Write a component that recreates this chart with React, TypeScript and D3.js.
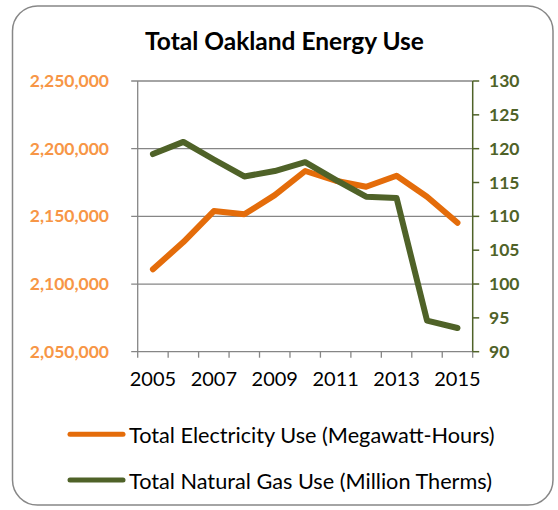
import React from "react";
import { scaleBand, scaleLinear, line, format } from "d3";

const years = [2005, 2006, 2007, 2008, 2009, 2010, 2011, 2012, 2013, 2014, 2015];
const electricity = [
  2110900, 2131000, 2153900, 2151500, 2165700, 2183500, 2176300, 2171900, 2180000, 2164500, 2145300,
];
const naturalGas = [119.2, 121.0, 118.4, 115.9, 116.7, 118.0, 115.4, 112.9, 112.7, 94.6, 93.5];
const leftTicks = [2050000, 2100000, 2150000, 2200000, 2250000];
const rightTicks = [90, 95, 100, 105, 110, 115, 120, 125, 130];
const xLabels = [2005, 2007, 2009, 2011, 2013, 2015];
const seriesNames = [
  "Total Electricity Use (Megawatt-Hours)",
  "Total Natural Gas Use (Million Therms)",
];

const width = 558;
const height = 510;
const plot = { left: 137.7, right: 472.7, top: 81, bottom: 351.7 };
const orange = "#E46C0A";
const green = "#4F6228";
const grid = "#868686";
const font = "Lato, 'Open Sans', sans-serif";

const x = scaleBand<number>().domain(years).range([plot.left, plot.right]).padding(0);
const cx = (yr: number) => (x(yr) as number) + x.bandwidth() / 2;
const yLeft = scaleLinear().domain([2050000, 2250000]).range([plot.bottom, plot.top]);
const yRight = scaleLinear().domain([90, 130]).range([plot.bottom, plot.top]);
const fmt = format(",");

const elecLine = line<number>()
  .x((_, i) => cx(years[i]))
  .y((d) => yLeft(d));
const gasLine = line<number>()
  .x((_, i) => cx(years[i]))
  .y((d) => yRight(d));

const App = () => {
  return (
    <div style={{ position: "absolute", left: 0, top: 0 }}>
      <svg width={width} height={height} style={{ display: "block" }}>
        <rect x={0} y={0} width={width} height={height} fill="#fff" />
        <rect
          x={12.5}
          y={6}
          width={540.5}
          height={499}
          rx={25}
          fill="#fff"
          stroke="#878787"
          strokeWidth={1.5}
        />
        <text
          x={284.5}
          y={50}
          textAnchor="middle"
          fontFamily={font}
          fontWeight="bold"
          fontSize={24.5}
          fill="#000"
        >
          Total Oakland Energy Use
        </text>

        {/* gridlines + left axis */}
        {leftTicks.map((t) => (
          <g key={t}>
            <line
              x1={plot.left - 6.5}
              x2={plot.right}
              y1={yLeft(t)}
              y2={yLeft(t)}
              stroke={grid}
              strokeWidth={1.3}
            />
            <text
              x={109}
              y={yLeft(t) + 6}
              textAnchor="end"
              fontFamily={font}
              fontWeight="bold"
              fontSize={17.5}
              fill="#F79646"
            >
              {fmt(t)}
            </text>
          </g>
        ))}
        <line x1={plot.left} x2={plot.left} y1={plot.top} y2={plot.bottom} stroke={grid} strokeWidth={1.3} />

        {/* x axis ticks */}
        {years.concat([years[years.length - 1] + 1]).map((yr, i) => {
          const xx = i < years.length ? (x(yr) as number) : plot.right;
          return (
            <line key={yr} x1={xx} x2={xx} y1={plot.bottom} y2={plot.bottom + 6} stroke={grid} strokeWidth={1.3} />
          );
        })}
        {xLabels.map((yr) => (
          <text
            key={yr}
            x={cx(yr)}
            y={386}
            textAnchor="middle"
            fontFamily={font}
            fontSize={20}
            fill="#000"
          >
            {yr}
          </text>
        ))}

        {/* right axis */}
        <line x1={plot.right} x2={plot.right} y1={plot.top} y2={plot.bottom} stroke={green} strokeWidth={1.5} />
        {rightTicks.map((t) => (
          <g key={t}>
            <line x1={plot.right} x2={plot.right + 6.5} y1={yRight(t)} y2={yRight(t)} stroke={green} strokeWidth={1.5} />
            <text
              x={489}
              y={yRight(t) + 6}
              fontFamily={font}
              fontWeight="bold"
              fontSize={17.5}
              fill={green}
            >
              {t}
            </text>
          </g>
        ))}

        {/* series */}
        <path d={elecLine(electricity) || ""} fill="none" stroke={orange} strokeWidth={6} strokeLinecap="round" strokeLinejoin="round" />
        <path d={gasLine(naturalGas) || ""} fill="none" stroke={green} strokeWidth={6} strokeLinecap="round" strokeLinejoin="round" />

        {/* legend */}
        {seriesNames.map((name, i) => {
          const ly = 434.3 + i * 45.7;
          return (
            <g key={name}>
              <line x1={70} x2={123} y1={ly} y2={ly} stroke={i === 0 ? orange : green} strokeWidth={5} strokeLinecap="round" />
              <text x={129} y={ly + 8.5} fontFamily={font} fontSize={21.7} fill="#000">
                {name}
              </text>
            </g>
          );
        })}
      </svg>
    </div>
  );
};

export default App;
